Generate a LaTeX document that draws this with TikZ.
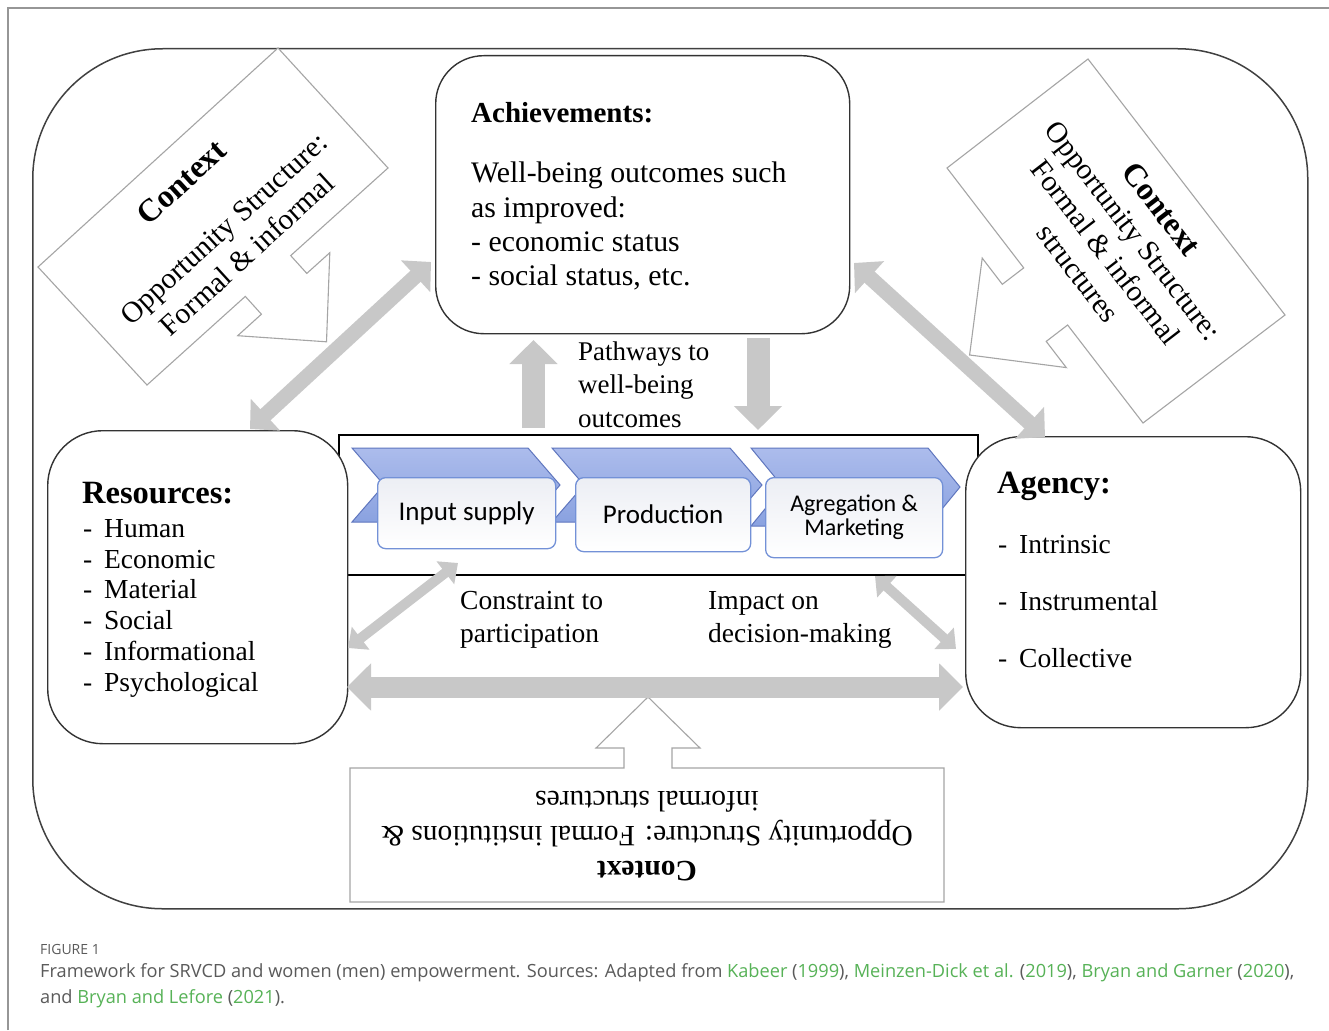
\documentclass[tikz,border=0pt]{standalone}
\usepackage{fontspec}
\setmainfont{Liberation Serif}
\newfontfamily\chevfont{Carlito}
\newfontfamily\capfont{Open Sans}
\usetikzlibrary{arrows.meta}
\definecolor{arrgray}{RGB}{200,200,200}
\definecolor{calloutgray}{RGB}{165,165,165}
\definecolor{framegray}{RGB}{150,150,150}
\definecolor{chevtop}{RGB}{172,188,236}
\definecolor{chevbot}{RGB}{138,162,224}
\definecolor{chevdraw}{RGB}{95,118,190}
\definecolor{boxblue}{RGB}{115,145,215}
\definecolor{boxtop}{RGB}{236,238,244}
\definecolor{capgray}{RGB}{90,90,90}
\definecolor{linkgreen}{RGB}{87,178,87}
\newcommand{\lnk}[1]{\textcolor{linkgreen}{#1}}
\tikzset{
  outerbox/.style={draw=black!75, line width=1.5pt, inner sep=0pt, anchor=north west, rounded corners=130pt},
  rbox/.style={draw=black!80, line width=1.4pt, fill=white, inner sep=0pt, anchor=north west},
  vcbox/.style={draw=black, line width=2pt, inner sep=0pt, anchor=north west},
  callout/.style={draw=calloutgray, fill=white, line width=1.1pt},
  chev/.style={top color=chevtop, bottom color=chevbot, draw=chevdraw, line width=1pt},
  stepbox/.style={draw=boxblue, top color=boxtop, bottom color=white, line width=1.3pt, rounded corners=8pt, inner sep=0pt, anchor=north west, align=center, font=\chevfont\fontsize{27}{30}\selectfont},
  txt/.style={inner sep=0pt, anchor=base west, font=\fontsize{28}{34}\selectfont},
  bodytxt/.style={inner sep=0pt, anchor=base west, font=\fontsize{29.8}{34}\selectfont},
  listtxt/.style={inner sep=0pt, anchor=base west, font=\fontsize{27.5}{31}\selectfont},
  headtxt/.style={inner sep=0pt, anchor=base west, font=\fontsize{32.5}{36}\selectfont\bfseries},
  rottxt/.style={inner sep=0pt, align=center, font=\fontsize{29.5}{35}\selectfont},
  captxt/.style={inner sep=0pt, anchor=base west, text=capgray, font=\capfont\fontsize{14}{17}\selectfont},
  capmain/.style={inner sep=0pt, anchor=base west, text=capgray, font=\capfont\fontsize{18.2}{26}\selectfont},
  diagarrow/.style={draw=arrgray, line width=15pt, arrows={Triangle[width=42pt,length=21pt]-Triangle[width=42pt,length=21pt]}},
  smallarrow/.style={draw=arrgray, line width=10pt, arrows={Triangle[width=28pt,length=16pt]-Triangle[width=28pt,length=16pt]}},
  wideharrow/.style={draw=arrgray, line width=21pt, arrows={Triangle[width=46pt,length=24pt]-Triangle[width=46pt,length=24pt]}},
  vertarrow/.style={draw=arrgray, line width=23pt, arrows={-Triangle[width=47pt,length=24pt]}}
}
\begin{document}
\begin{tikzpicture}[x=1pt,y=-1pt]
\useasboundingbox (0,0) rectangle (1329,1030);
\fill[white] (0,0) rectangle (1329,1030);
\draw[framegray, line width=1.5pt] (8,1030) -- (8,8) -- (1329,8);

% outer container
\node[outerbox, minimum width=1275pt, minimum height=860pt] (outer) at (32,48) {};

% context callouts
\draw[callout] (278,48) -- (388,168) -- (290.7,255.6) -- (306.8,273.4) -- (329.8,252.7)
  -- (326.5,341.8) -- (237.7,335.7) -- (261.4,314.2) -- (245.3,296.4) -- (147,385) -- (38,267) -- cycle;
\draw[callout] (1088,59) -- (1285,315) -- (1143,423) -- (1067.6,325) -- (1046.2,341.4) -- (1066.3,367.6)
  -- (969.6,355) -- (982.2,258.1) -- (1002.3,284.3) -- (1023.7,267.9) -- (947,168) -- cycle;
\draw[callout] (350,768) -- (624,768) -- (624,748) -- (596,748) -- (648,697) -- (700,748) -- (672,748)
  -- (672,768) -- (944,768) -- (944,902) -- (350,902) -- cycle;

% value chain frame
\node[vcbox, minimum width=639pt, minimum height=140pt] (vc) at (338,434) {};
\draw[chev] (352,448) -- (528,448) -- (560,485) -- (528,522) -- (352,522) -- (384,485) -- cycle;
\draw[chev] (552,448) -- (730,448) -- (762,485) -- (730,522) -- (552,522) -- (584,485) -- cycle;
\draw[chev] (751,448) -- (928,448) -- (960,487) -- (928,526) -- (751,526) -- (783,487) -- cycle;
\node[stepbox, minimum width=178pt, minimum height=71pt] (s1) at (377,477) {Input supply};
\node[stepbox, minimum width=175pt, minimum height=74pt] (s2) at (575,477) {Production};
\node[stepbox, minimum width=177pt, minimum height=80pt, font=\chevfont\fontsize{24}{24}\selectfont] (s3) at (765,477) {Agregation \&\\Marketing};

% main boxes
\node[rbox, rounded corners=48pt, minimum width=414pt, minimum height=278pt] (ach) at (435,55) {};
\node[rbox, rounded corners=55pt, minimum width=300pt, minimum height=313pt] (res) at (47,430) {};
\node[rbox, rounded corners=55pt, minimum width=335pt, minimum height=291pt] (agy) at (965,436) {};

% connector end points
\coordinate (a1s) at (250,429);
\coordinate (a1e) at (431,262);
\coordinate (a2s) at (854,263);
\coordinate (a2e) at (1045,437);
\coordinate (a3s) at (348,648);
\coordinate (a3e) at (458,563);
\coordinate (a4s) at (875,576);
\coordinate (a4e) at (956,649);
\coordinate (a5s) at (347,687);
\coordinate (a5e) at (963,687);
\coordinate (upb) at (533.5,428);
\coordinate (upt) at (533.5,340);
\coordinate (dnb) at (758,338);
\coordinate (dnt) at (758,430);

\draw[diagarrow] (a1s) -- (a1e);
\draw[diagarrow] (a2s) -- (a2e);
\draw[smallarrow] (a3s) -- (a3e);
\draw[smallarrow] (a4s) -- (a4e);
\draw[wideharrow] (a5s) -- (a5e);
\draw[vertarrow] (upb) -- (upt);
\draw[vertarrow] (dnb) -- (dnt);

% achievements text
\node[bodytxt, font=\fontsize{29}{34}\selectfont\bfseries] (ach0) at (471,122) {Achievements:};
\node[bodytxt] (ach1) at (471,182) {Well-being outcomes such};
\node[bodytxt] (ach2) at (471,217) {as improved:};
\node[bodytxt] (ach3) at (471,251.5) {- economic status};
\node[bodytxt] (ach4) at (471,285) {- social status, etc.};

% resources text
\node[headtxt] (res0) at (82,503) {Resources:};
\node[listtxt] (res1) at (83,537) {\makebox[21pt][l]{-}Human};
\node[listtxt] (res2) at (83,568) {\makebox[21pt][l]{-}Economic};
\node[listtxt] (res3) at (83,598) {\makebox[21pt][l]{-}Material};
\node[listtxt] (res4) at (83,629) {\makebox[21pt][l]{-}Social};
\node[listtxt] (res5) at (83,660) {\makebox[21pt][l]{-}Informational};
\node[listtxt] (res6) at (83,691) {\makebox[21pt][l]{-}Psychological};

% agency text
\node[headtxt] (agy0) at (997,493) {Agency:};
\node[listtxt] (agy1) at (998,553) {\makebox[21pt][l]{-}Intrinsic};
\node[listtxt] (agy2) at (998,610) {\makebox[21pt][l]{-}Instrumental};
\node[listtxt] (agy3) at (998,667) {\makebox[21pt][l]{-}Collective};

% middle labels
\node[txt, font=\fontsize{27}{33}\selectfont] (pw1) at (578,360) {Pathways to};
\node[txt, font=\fontsize{27}{33}\selectfont] (pw2) at (578,393) {well-being};
\node[txt, font=\fontsize{27}{33}\selectfont] (pw3) at (578,427) {outcomes};
\node[listtxt] (ct1) at (460,609) {Constraint to};
\node[listtxt] (ct2) at (460,642) {participation};
\node[listtxt] (im1) at (708,609) {Impact on};
\node[listtxt] (im2) at (708,642) {decision-making};

% rotated context texts
\node[rottxt, rotate=42.4] (ctxl) at (214,218) {{\fontsize{32}{35}\selectfont\bfseries Context}\\[27pt]Opportunity Structure:\\Formal \& informal};
\node[rottxt, rotate=-52.4] (ctxr) at (1120,241) {{\fontsize{32}{35}\selectfont\bfseries Context}\\Opportunity Structure:\\Formal \& informal\\structures};
\node[rottxt, rotate=180] (ctxb) at (647,836) {{\bfseries Context}\\Opportunity Structure: Formal institutions \&\\informal structures};

% caption
\node[captxt] (fig) at (40,954) {FIGURE 1};
\node[capmain] (cap1) at (40,977) {Framework for SRVCD and women (men) empowerment. Sources: Adapted from \lnk{Kabeer} (\lnk{1999}), \lnk{Meinzen-Dick et al.} (\lnk{2019}), \lnk{Bryan and Garner} (\lnk{2020}),};
\node[capmain] (cap2) at (40,1003) {and \lnk{Bryan and Lefore} (\lnk{2021}).};
\end{tikzpicture}
\end{document}
